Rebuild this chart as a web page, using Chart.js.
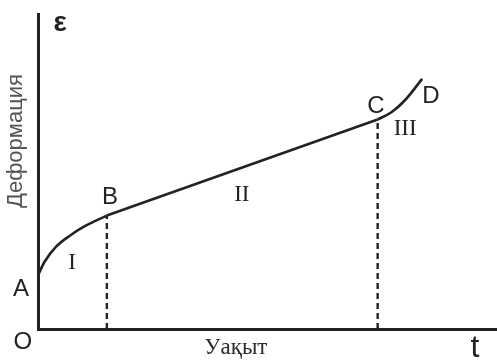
<!DOCTYPE html>
<html>
<head>
<meta charset="utf-8">
<script src="https://cdn.jsdelivr.net/npm/chart.js@4.4.0/dist/chart.umd.min.js"></script>
<style>
  html, body { margin: 0; padding: 0; background: #fff; }
  #wrap { width: 497px; height: 361px; }
</style>
</head>
<body>
<div id="wrap"><canvas id="creep"></canvas></div>
<script>
// creep curve: time vs deformation (arbitrary units), one array pair per stage
const time1 = [0, 0.15, 0.4, 0.7, 1.0, 1.5];
const strain1 = [1.71, 2.15, 2.62, 2.97, 3.25, 3.6];
const time2 = [1.5, 7.4];
const strain2 = [3.6, 6.65];
const time3 = [7.4, 7.7, 8.0, 8.37];
const strain3 = [6.65, 6.88, 7.27, 7.94];

// stage boundaries (B and C)
const stageTime = [1.5, 7.4];
const stageStrain = [3.6, 6.65];

// text labels: [text, x, y, font, color]
const labels = [
  ["ε", 0.48, 9.7, "bold 28px 'Liberation Sans'", "#222"],
  ["A", -0.37, 1.27, "24px 'Liberation Sans'", "#222"],
  ["O", -0.33, -0.44, "24px 'Liberation Sans'", "#222"],
  ["B", 1.57, 4.19, "24px 'Liberation Sans'", "#222"],
  ["C", 7.36, 7.08, "24px 'Liberation Sans'", "#222"],
  ["D", 8.56, 7.37, "24px 'Liberation Sans'", "#222"],
  ["I", 0.74, 2.1, "23px 'Liberation Serif'", "#222"],
  ["II", 4.44, 4.25, "23px 'Liberation Serif'", "#222"],
  ["III", 8.0, 6.35, "23px 'Liberation Serif'", "#222"],
  ["Уақыт", 4.31, -0.6, "23px 'Liberation Serif'", "#2a2a2a"],
  ["t", 9.52, -0.62, "32px 'Liberation Sans'", "#222"]
];
const yTitle = "Деформация";

const toPoints = (xs, ys) => xs.map((t, i) => ({x: t, y: ys[i]}));

const curveStyle = {
  borderColor: "#222",
  borderWidth: 2.6,
  pointRadius: 0,
  fill: false
};

const datasets = [
  Object.assign({data: toPoints(time1, strain1), cubicInterpolationMode: "monotone"}, curveStyle),
  Object.assign({data: toPoints(time2, strain2)}, curveStyle),
  Object.assign({data: toPoints(time3, strain3), cubicInterpolationMode: "monotone"}, curveStyle)
];
stageTime.forEach((t, i) => {
  datasets.push({
    data: [{x: t, y: 0}, {x: t, y: stageStrain[i]}],
    borderColor: "#222",
    borderWidth: 2.4,
    borderDash: [6, 4],
    pointRadius: 0,
    fill: false
  });
});

const textPlugin = {
  id: "textLabels",
  afterDraw(chart) {
    const ctx = chart.ctx;
    const xs = chart.scales.x, ys = chart.scales.y;
    ctx.save();
    ctx.textAlign = "center";
    ctx.textBaseline = "middle";
    labels.forEach(l => {
      ctx.font = l[3];
      ctx.fillStyle = l[4];
      ctx.fillText(l[0], xs.getPixelForValue(l[1]), ys.getPixelForValue(l[2]));
    });
    // rotated axis title
    ctx.translate(xs.getPixelForValue(-0.47), ys.getPixelForValue(5.97));
    ctx.rotate(-Math.PI / 2);
    ctx.font = "22px 'Liberation Sans'";
    ctx.fillStyle = "#555";
    ctx.fillText(yTitle, 0, 0);
    ctx.restore();
  }
};

new Chart(document.getElementById("creep"), {
  type: "line",
  data: {datasets: datasets},
  options: {
    responsive: true,
    maintainAspectRatio: false,
    animation: false,
    layout: {padding: {left: 38, top: 14, bottom: 32, right: 0}},
    plugins: {legend: {display: false}, tooltip: {enabled: false}},
    scales: {
      x: {
        type: "linear", min: 0, max: 10,
        grid: {display: false, drawTicks: false},
        ticks: {display: false},
        border: {display: true, color: "#222", width: 3}
      },
      y: {
        type: "linear", min: 0, max: 10,
        grid: {display: false, drawTicks: false},
        ticks: {display: false},
        border: {display: true, color: "#222", width: 3}
      }
    }
  },
  plugins: [textPlugin]
});
</script>
</body>
</html>
